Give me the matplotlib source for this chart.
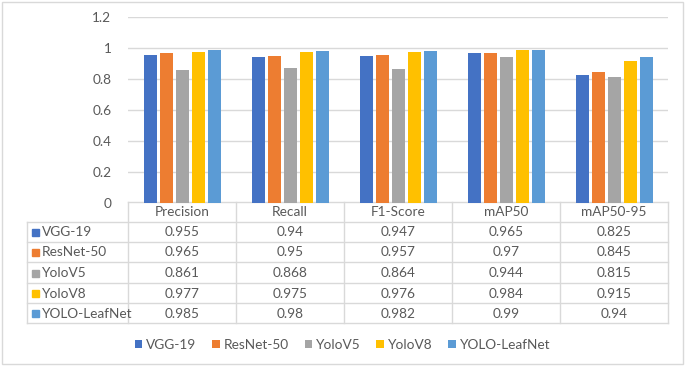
import matplotlib
matplotlib.use("Agg")
import matplotlib.pyplot as plt
from matplotlib.lines import Line2D
from matplotlib.patches import Rectangle
import numpy as np

categories = ["Precision", "Recall", "F1-Score", "mAP50", "mAP50-95"]
models = ["VGG-19", "ResNet-50", "YoloV5", "YoloV8", "YOLO-LeafNet"]
vgg19 = [0.955, 0.94, 0.947, 0.965, 0.825]
resnet50 = [0.965, 0.95, 0.957, 0.97, 0.845]
yolov5 = [0.861, 0.868, 0.864, 0.944, 0.815]
yolov8 = [0.977, 0.975, 0.976, 0.984, 0.915]
leafnet = [0.985, 0.98, 0.982, 0.99, 0.94]
labels = [["0.955", "0.94", "0.947", "0.965", "0.825"],
          ["0.965", "0.95", "0.957", "0.97", "0.845"],
          ["0.861", "0.868", "0.864", "0.944", "0.815"],
          ["0.977", "0.975", "0.976", "0.984", "0.915"],
          ["0.985", "0.98", "0.982", "0.99", "0.94"]]
series = [vgg19, resnet50, yolov5, yolov8, leafnet]
colors = ["#4472C4", "#ED7D31", "#A5A5A5", "#FFC000", "#5B9BD5"]
yticks = [0, 0.2, 0.4, 0.6, 0.8, 1, 1.2]
yticklabels = ["0", "0.2", "0.4", "0.6", "0.8", "1", "1.2"]

W, H = 685, 366
plt.rcParams['font.family'] = ['Lato', 'DejaVu Sans']
txt = "#595959"
grid = "#D9D9D9"
fs = 9.8

fig = plt.figure(figsize=(W / 100, H / 100), dpi=100)

# overlay axes in pixel coords
ov = fig.add_axes([0, 0, 1, 1])
ov.set_xlim(0, W)
ov.set_ylim(H, 0)
ov.axis("off")

# main chart
x0, x1 = 128, 668
ytop, ybot = 17, 203
ax = fig.add_axes([x0 / W, (H - ybot) / H, (x1 - x0) / W, (ybot - ytop) / H])
ax.set_zorder(2)
ax.patch.set_alpha(0)
n = len(categories)
xs = np.arange(n)
slot = 16 / 108
bw = 13 / 108
for i, (vals, c, m) in enumerate(zip(series, colors, models)):
    ax.bar(xs + (i - 2) * slot, vals, width=bw, color=c, label=m, zorder=3)
ax.set_xlim(-0.5, n - 0.5)
ax.set_ylim(0, 1.2)
ax.set_yticks(yticks)
ax.set_yticklabels(yticklabels, color=txt, fontsize=fs)
ax.tick_params(axis="y", length=0, pad=12)
ax.set_xticks([])
for s in ax.spines.values():
    s.set_visible(False)
ax.grid(axis="y", color=grid, lw=1, zorder=0)
ax.set_axisbelow(True)

# table
colx = [128, 236, 344, 452, 560, 668]
rowy = [202, 222, 242, 262, 283, 303, 323]
lc = grid
ov.add_line(Line2D([colx[0], colx[-1]], [rowy[0], rowy[0]], color=lc, lw=1))
for y in rowy[1:]:
    ov.add_line(Line2D([27, colx[-1]], [y, y], color=lc, lw=1))
for x in colx:
    ov.add_line(Line2D([x, x], [rowy[0], rowy[-1]], color=lc, lw=1))
ov.add_line(Line2D([27, 27], [rowy[1], rowy[-1]], color=lc, lw=1))
for j, cat in enumerate(categories):
    ov.text((colx[j] + colx[j + 1]) / 2, (rowy[0] + rowy[1]) / 2 + 0.5, cat,
            ha="center", va="center", color=txt, fontsize=fs)
for i, m in enumerate(models):
    yc = (rowy[i + 1] + rowy[i + 2]) / 2 + 0.5
    ov.add_patch(Rectangle((32, yc - 3.5), 7, 7, color=colors[i]))
    ov.text(42, yc, m, ha="left", va="center", color=txt, fontsize=fs)
    for j in range(n):
        ov.text((colx[j] + colx[j + 1]) / 2, yc, labels[i][j],
                ha="center", va="center", color=txt, fontsize=fs)

# border
ov.add_patch(Rectangle((2, 2), W - 4, H - 4, fill=False, ec="#D9D9D9", lw=1))

# legend
h, l = ax.get_legend_handles_labels()
leg = fig.legend(h, l, loc="center", bbox_to_anchor=(0.5, (H - 345) / H), ncol=5,
                 frameon=False, fontsize=fs, handlelength=0.55, handleheight=0.55,
                 handletextpad=0.3, columnspacing=1.15)
for t in leg.get_texts():
    t.set_color(txt)

fig.savefig("out.png", dpi=100)
